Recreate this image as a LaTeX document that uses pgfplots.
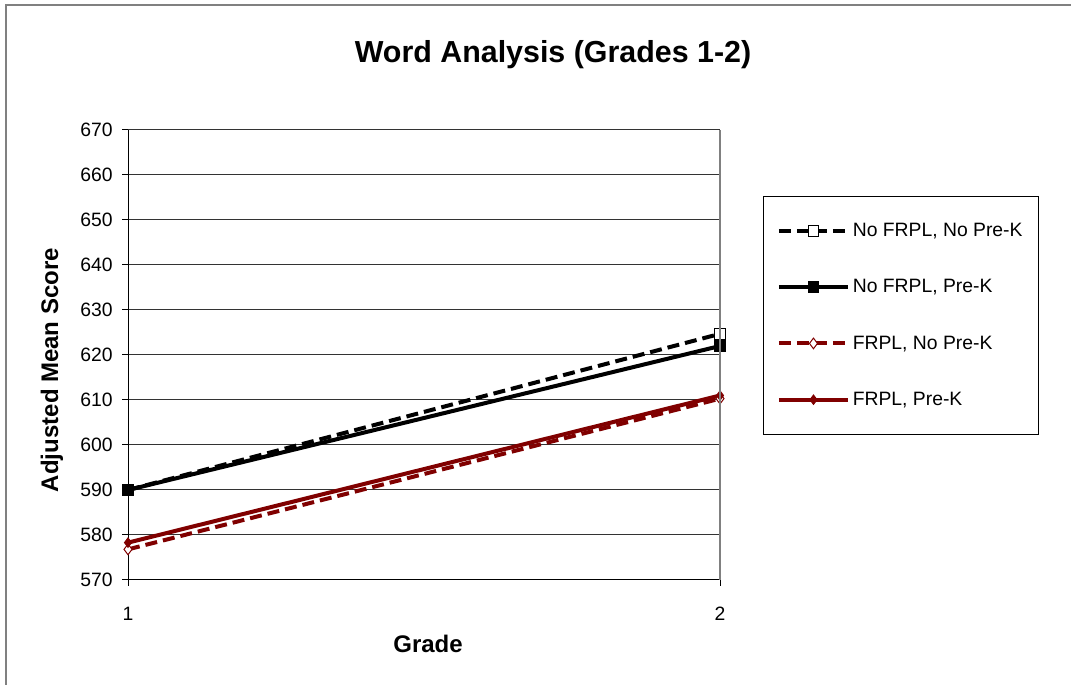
\documentclass[border=0pt]{standalone}
\usepackage{pgfplots}
\pgfplotsset{compat=1.18}
\usepackage{fontspec}
\setmainfont{Liberation Sans}
\definecolor{dred}{RGB}{128,0,0}
\definecolor{bord}{RGB}{128,128,128}
\begin{document}
\begin{tikzpicture}[x=0.75pt,y=0.75pt]
\path[use as bounding box] (0,0) rectangle (1071,685);
\draw[bord,line width=1.5pt] (6,0) -- (6,680) -- (1071,680);
\node[font=\fontsize{22.8}{27}\selectfont\bfseries] at (553,630) {Word Analysis (Grades 1-2)};
\begin{axis}[
  at={(96pt,78.75pt)}, anchor=south west,
  scale only axis, width=444pt, height=337.5pt,
  xmin=1, xmax=2, ymin=570, ymax=670,
  xtick={1,2}, ytick distance=10,
  axis lines*=left,
  axis line style={black, line width=0.75pt},
  tick style={black, line width=0.75pt},
  tick align=outside, major tick length=4.5pt,
  ymajorgrids, grid style={black!80, line width=0.75pt},
  ticklabel style={font=\fontsize{14.5}{17}\selectfont},
  /pgf/number format/assume math mode=true,
  /pgf/number format/1000 sep={},
  xticklabel style={yshift=-12pt},
  yticklabel style={xshift=-3.5pt},
  xlabel={Grade}, ylabel={Adjusted Mean Score},
  label style={font=\fontsize{18}{21}\selectfont\bfseries},
  xlabel style={at={(axis description cs:0.5068,-0.1422)}, anchor=center},
  ylabel style={at={(axis description cs:-0.1284,0.4667)}, anchor=center, rotate=0},
  legend style={at={(1.0726,0.8533)}, anchor=north west, draw=black, line width=0.75pt,
    font=\fontsize{14.5}{17}\selectfont, inner xsep=10pt, inner ysep=18pt, row sep=26.75pt,
    cells={anchor=west}},
  legend image code/.code={\draw[mark repeat=2,mark phase=2,#1] plot coordinates {(0pt,0pt) (26pt,0pt) (52pt,0pt)};},
  after end axis/.code={\draw[bord, line width=1pt] (rel axis cs:1,0) -- (rel axis cs:1,1);},
  clip=false,
]
\addplot[black, line width=3pt, dash pattern=on 9pt off 4.5pt, mark=square*, mark size=4pt,
  mark options={solid, fill=white, line width=0.75pt}]
  coordinates {(1,590) (2,624.7)};
\addlegendentry{No FRPL, No Pre-K}
\addplot[black, line width=3pt, mark=square*, mark size=4pt,
  mark options={solid, fill=black, line width=0.75pt}]
  coordinates {(1,590) (2,622.0)};
\addlegendentry{No FRPL, Pre-K}
\addplot[dred, line width=3pt, dash pattern=on 9pt off 4.5pt, mark=diamond*, mark size=4pt,
  mark options={solid, fill=white, line width=0.75pt}]
  coordinates {(1,576.8) (2,610.3)};
\addlegendentry{FRPL, No Pre-K}
\addplot[dred, line width=3pt, mark=diamond*, mark size=3.5pt,
  mark options={solid, fill=dred, line width=0.75pt}]
  coordinates {(1,578.3) (2,611.0)};
\addlegendentry{FRPL, Pre-K}
\end{axis}
\end{tikzpicture}
\end{document}
